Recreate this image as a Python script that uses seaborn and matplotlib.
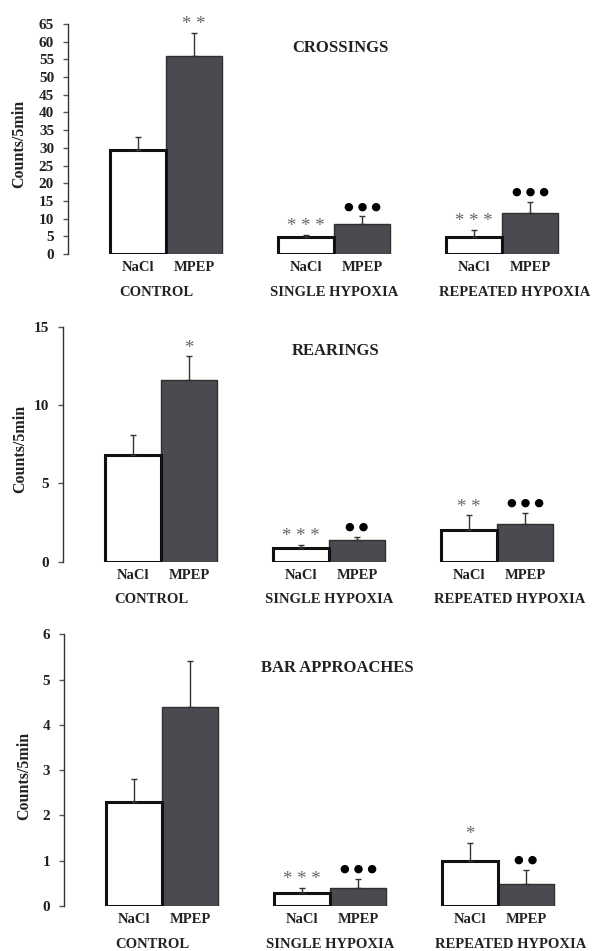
import matplotlib
matplotlib.use("Agg")
import matplotlib.pyplot as plt
import seaborn as sns
import pandas as pd
import numpy as np

# ---------------- data ----------------
groups = ["CONTROL", "SINGLE HYPOXIA", "REPEATED HYPOXIA"]
treatments = ["NaCl", "MPEP"]

crossings_nacl = [29.3, 4.9, 4.9]
crossings_nacl_err = [3.9, 0.5, 1.9]
crossings_mpep = [56.0, 8.6, 11.7]
crossings_mpep_err = [6.5, 2.1, 3.0]
crossings_nacl_sig = ["", "* * *", "* * *"]
crossings_mpep_sig = ["* *", "● ● ●", "● ● ●"]

rearings_nacl = [6.8, 0.9, 2.0]
rearings_nacl_err = [1.3, 0.18, 0.96]
rearings_mpep = [11.6, 1.38, 2.39]
rearings_mpep_err = [1.5, 0.22, 0.74]
rearings_nacl_sig = ["", "* * *", "* *"]
rearings_mpep_sig = ["*", "● ●", "● ● ●"]

bar_nacl = [2.3, 0.29, 1.0]
bar_nacl_err = [0.5, 0.11, 0.4]
bar_mpep = [4.4, 0.39, 0.49]
bar_mpep_err = [1.0, 0.21, 0.31]
bar_nacl_sig = ["", "* * *", "*"]
bar_mpep_sig = ["", "● ● ●", "● ●"]

titles = ["CROSSINGS", "REARINGS", "BAR APPROACHES"]
ylabel = "Counts/5min"
yticks_list = [list(range(0, 70, 5)), [0, 5, 10, 15], [0, 1, 2, 3, 4, 5, 6]]

# ---------------- style ----------------
sns.set_theme(style="white")
plt.rcParams["font.family"] = ["Liberation Serif", "DejaVu Sans"]
plt.rcParams["font.weight"] = "bold"

MPEP_COLOR = "#4b4a50"
W, H = 593, 951
fig = plt.figure(figsize=(W / 100, H / 100), dpi=100)

# axes boxes in pixels: (left, bottom_y_px, top_y_px)
boxes = [(68, 254, 24), (63, 561.7, 326.7), (64, 906, 634.3)]
ylabel_x = [-0.080, -0.069, -0.063]
title_y = [0.895, 0.895, 0.875]
group_dx = [-7, 0, 9]

panels = [
    (crossings_nacl, crossings_nacl_err, crossings_mpep, crossings_mpep_err,
     crossings_nacl_sig, crossings_mpep_sig),
    (rearings_nacl, rearings_nacl_err, rearings_mpep, rearings_mpep_err,
     rearings_nacl_sig, rearings_mpep_sig),
    (bar_nacl, bar_nacl_err, bar_mpep, bar_mpep_err,
     bar_nacl_sig, bar_mpep_sig),
]

for i, (nacl, nacl_err, mpep, mpep_err, nsig, msig) in enumerate(panels):
    left, ybot, ytop = boxes[i]
    ax = fig.add_axes([left / W, 1 - ybot / H, 510 / W, (ybot - ytop) / H])

    df = pd.DataFrame({
        "group": groups * 2,
        "treatment": ["NaCl"] * 3 + ["MPEP"] * 3,
        "value": nacl + mpep,
    })
    sns.barplot(data=df, x="group", y="value", hue="treatment",
                order=groups, hue_order=treatments,
                palette={"NaCl": "white", "MPEP": MPEP_COLOR},
                width=0.667, gap=0, errorbar=None, legend=False, ax=ax,
                saturation=1)

    errs = [nacl_err, mpep_err]
    sigs = [nsig, msig]
    centers = []
    bar_conts = list(ax.containers)
    for k, cont in enumerate(bar_conts):
        xs, ys = [], []
        for bar in cont:
            if k == 0:
                bar.set_edgecolor("#111111")
                bar.set_linewidth(2.2)
            else:
                bar.set_edgecolor("#303030")
                bar.set_linewidth(1.0)
            bar.set_zorder(3 if k == 0 else 2)
            xs.append(bar.get_x() + bar.get_width() / 2)
            ys.append(bar.get_height())
        centers.extend(xs)
        e = np.array(errs[k])
        ax.errorbar(xs, ys, yerr=[np.zeros_like(e), e], fmt="none",
                    ecolor="#333333", elinewidth=1.0, capsize=2.4,
                    capthick=1.0, zorder=4)
        for x, y, ee, s in zip(xs, ys, e, sigs[k]):
            if not s:
                continue
            if "*" in s:
                ax.annotate(s, (x, y + ee), xytext=(0, 2.5),
                            textcoords="offset points", ha="center",
                            va="baseline", fontsize=13.5, color="#666666",
                            fontweight="normal", annotation_clip=False)
            else:
                ax.annotate(s, (x, y + ee), xytext=(0, 5),
                            textcoords="offset points", ha="center",
                            va="baseline", fontsize=8, color="black",
                            family=["DejaVu Sans"], annotation_clip=False)

    ax.set_xlim(-0.583, 2.452)
    ax.set_ylim(yticks_list[i][0], yticks_list[i][-1])
    ax.set_yticks(yticks_list[i])
    ax.set_yticklabels([str(t) for t in yticks_list[i]],
                       fontsize=11, fontweight="bold", color="#222222")

    order = np.argsort(centers)
    cs = np.array(centers)[order]
    ax.set_xticks(cs)
    ax.set_xticklabels(["NaCl", "MPEP"] * 3, fontsize=10.5, fontweight="bold",
                       color="#222222")
    ax.tick_params(axis="x", length=0, pad=5)
    ax.tick_params(axis="y", direction="out", length=3.5, width=1,
                   color="#555555", pad=6.5, left=True)
    ax.set_xlabel("")

    for g, gname in enumerate(groups):
        ax.annotate(gname, (g, 0), xycoords="data",
                    xytext=(group_dx[g], -27.5), textcoords="offset points",
                    ha="center", va="center", fontsize=10.5,
                    fontweight="bold", color="#222222",
                    annotation_clip=False)

    ax.text(0.535, title_y[i], titles[i], transform=ax.transAxes,
            ha="center", va="center", fontsize=12, fontweight="bold",
            color="#222222")

    ax.set_ylabel(ylabel, fontsize=11.5, fontweight="bold", color="#222222")
    ax.yaxis.set_label_coords(ylabel_x[i], 0.48)

    for sp in ["top", "right", "bottom"]:
        ax.spines[sp].set_visible(False)
    ax.spines["left"].set_color("#333333")
    ax.spines["left"].set_linewidth(1.0)
    ax.set_facecolor("white")
    ax.grid(False)

fig.savefig("out.png", dpi=100, facecolor="white")
